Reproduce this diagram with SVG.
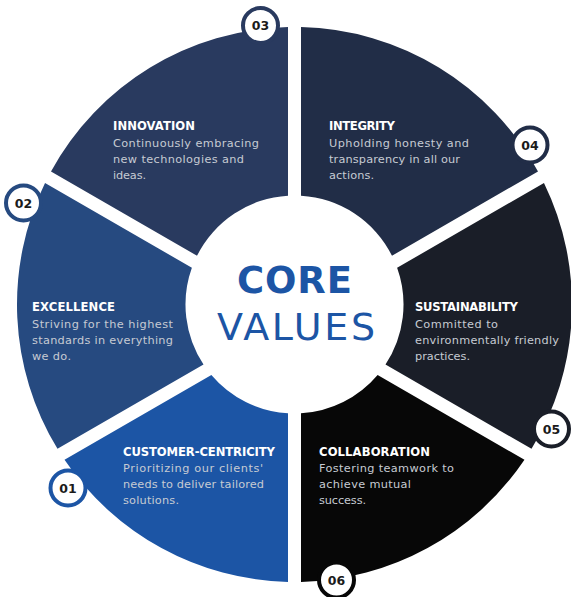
<svg xmlns="http://www.w3.org/2000/svg" width="571" height="597" viewBox="0 0 571 597">
<defs>
<style>
.h{font-family:"DejaVu Sans","Liberation Sans",sans-serif;font-weight:700;font-size:11.6px;fill:#ffffff}
.d{font-family:"DejaVu Sans","Liberation Sans",sans-serif;font-weight:400;font-size:11.3px;fill:#c6cbd3}
.badge{fill:#ffffff;stroke-width:4}
.num{font-family:"DejaVu Sans","Liberation Sans",sans-serif;font-weight:700;font-size:12.5px;fill:#1b1b1b;text-anchor:middle}
.title{font-family:"DejaVu Sans","Liberation Sans",sans-serif;fill:#1c55a5;text-anchor:middle}
</style>
</defs>
<rect width="571" height="597" fill="#ffffff"/>

<g id="innovation">
<path d="M51,171.41 A277.5,277.5 0 0 1 288,27.08 L288,195.69 A109,109 0 0 0 197.02,255.72 Z" fill="#293a5f"/>
<text class="h" x="113" y="130" textLength="82">INNOVATION</text>
<text class="d" x="113" y="147" textLength="146">Continuously embracing</text>
<text class="d" x="113" y="163" textLength="131">new technologies and</text>
<text class="d" x="113" y="179" textLength="33">ideas.</text>
<circle class="badge" cx="260.5" cy="25.5" r="17.5" stroke="#293a5f"/>
<text class="num" x="260.5" y="30">03</text>
</g>

<g id="integrity">
<path d="M301,27.08 A277.5,277.5 0 0 1 538,171.41 L391.98,255.72 A109,109 0 0 0 301,195.69 Z" fill="#212d47"/>
<text class="h" x="329" y="130" textLength="66">INTEGRITY</text>
<text class="d" x="329" y="147" textLength="140">Upholding honesty and</text>
<text class="d" x="329" y="163" textLength="131">transparency in all our</text>
<text class="d" x="329" y="179" textLength="45">actions.</text>
<circle class="badge" cx="530" cy="145" r="17.5" stroke="#212d47"/>
<text class="num" x="530" y="149.5">04</text>
</g>

<g id="sustainability">
<path d="M543.97,182.97 A277.5,277.5 0 0 1 531.51,448.83 L385.49,364.53 A109,109 0 0 0 397.12,267.76 Z" fill="#1a1e28"/>
<text class="h" x="415" y="311" textLength="103">SUSTAINABILITY</text>
<text class="d" x="415" y="327.5" textLength="83">Committed to</text>
<text class="d" x="415" y="343.5" textLength="144">environmentally friendly</text>
<text class="d" x="415" y="359.5" textLength="55">practices.</text>
<circle class="badge" cx="551.5" cy="429" r="17.5" stroke="#1a1e28"/>
<text class="num" x="551.5" y="433.5">05</text>
</g>

<g id="collaboration">
<path d="M524.48,459.78 A277.5,277.5 0 0 1 301,581.92 L301,413.31 A109,109 0 0 0 377.63,375 Z" fill="#070707"/>
<text class="h" x="319" y="455.5" textLength="111">COLLABORATION</text>
<text class="d" x="319" y="472" textLength="135">Fostering teamwork to</text>
<text class="d" x="319" y="488" textLength="92">achieve mutual</text>
<text class="d" x="319" y="504" textLength="47">success.</text>
<circle class="badge" cx="336.5" cy="580" r="17.5" stroke="#070707"/>
<text class="num" x="336.5" y="584.5">06</text>
</g>

<g id="customer-centricity">
<path d="M288,581.92 A277.5,277.5 0 0 1 64.52,459.78 L211.37,375 A109,109 0 0 0 288,413.31 Z" fill="#1c55a5"/>
<text class="h" x="123" y="455.5" textLength="152">CUSTOMER-CENTRICITY</text>
<text class="d" x="123" y="472" textLength="140">Prioritizing our clients'</text>
<text class="d" x="123" y="488" textLength="141">needs to deliver tailored</text>
<text class="d" x="123" y="504" textLength="56">solutions.</text>
<circle class="badge" cx="68" cy="488" r="17.5" stroke="#1c55a5"/>
<text class="num" x="68" y="492.5">01</text>
</g>

<g id="excellence">
<path d="M57.49,448.83 A277.5,277.5 0 0 1 45.03,182.97 L191.88,267.76 A109,109 0 0 0 203.51,364.53 Z" fill="#264a80"/>
<text class="h" x="32" y="311" textLength="83">EXCELLENCE</text>
<text class="d" x="32" y="327.5" textLength="141">Striving for the highest</text>
<text class="d" x="32" y="343.5" textLength="141">standards in everything</text>
<text class="d" x="32" y="359.5" textLength="39">we do.</text>
<circle class="badge" cx="23.5" cy="203" r="17.5" stroke="#264a80"/>
<text class="num" x="23.5" y="207.5">02</text>
</g>

<g id="core-values">
<circle cx="294.5" cy="304.5" r="108" fill="#ffffff"/>
<text class="title" x="294.5" y="293" font-size="37" font-weight="700" textLength="115">CORE</text>
<text class="title" x="296" y="340" font-size="38" font-weight="400" textLength="158">VALUES</text>
</g>

<g id="connectors"></g>
</svg>
